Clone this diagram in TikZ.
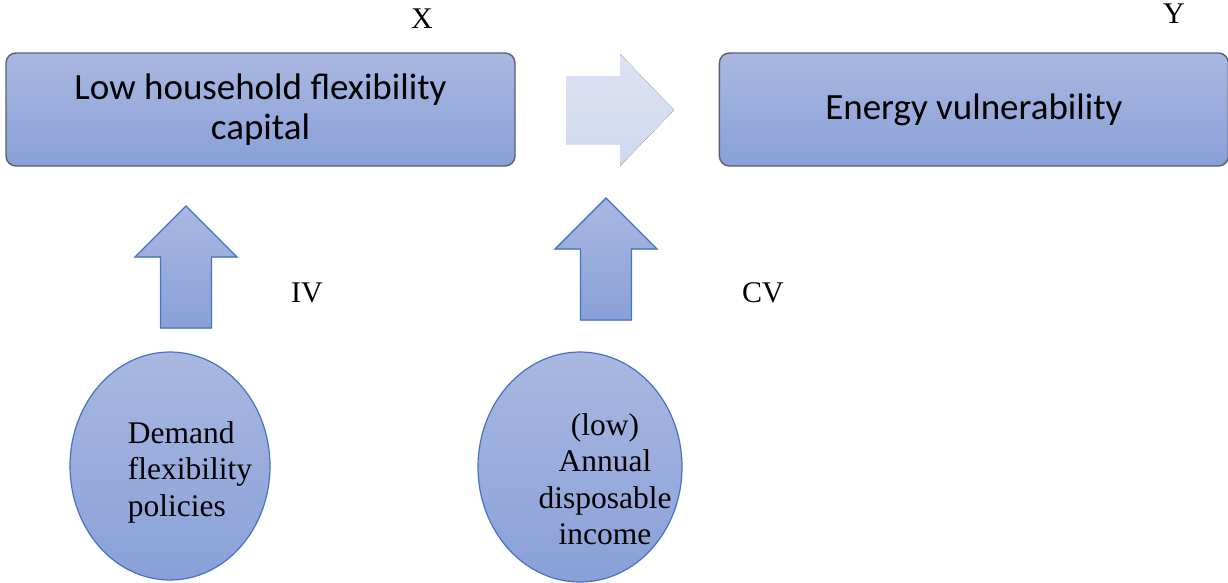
\documentclass[tikz,border=0pt]{standalone}
\usepackage{fontspec}
\setmainfont{Liberation Serif}
\newfontfamily\calibri{Carlito}
\usetikzlibrary{positioning,shapes.geometric}

\definecolor{boxtop}{RGB}{169,184,225}
\definecolor{boxbot}{RGB}{137,160,216}
\definecolor{boxline}{RGB}{88,96,112}
\definecolor{blueline}{RGB}{68,114,196}
\definecolor{paletop}{RGB}{221,226,242}
\definecolor{palebot}{RGB}{208,216,238}

% block arrow pointing up, tip at (#1,#2)
\newcommand{\uparrowat}[2]{%
  \filldraw[uparrow] (#1,#2) -- ++(51,51) -- ++(-25.5,0) -- ++(0,71)
    -- ++(-51,0) -- ++(0,-71) -- ++(-25.5,0) -- cycle;}

\begin{document}
\begin{tikzpicture}[x=1pt, y=-1pt]
	\tikzstyle{box}=[rectangle, rounded corners=10pt, draw=boxline, line width=1.4pt, top color=boxtop, bottom color=boxbot, minimum width=509pt, minimum height=113pt, inner sep=0pt, align=center, font=\calibri\fontsize{37}{40}\selectfont]
	\tikzstyle{bubble}=[ellipse, draw=blueline, line width=1.2pt, top color=boxtop, bottom color=boxbot, inner sep=0pt]
	\tikzstyle{bubbletext}=[inner sep=0pt, font=\fontsize{31.5}{36.5}\selectfont]
	\tikzstyle{tag}=[inner sep=0pt, font=\fontsize{30}{36}\selectfont]
	\tikzstyle{uparrow}=[draw=blueline, line width=1.4pt, top color=boxtop, bottom color=boxbot]
	\useasboundingbox (0,0) rectangle (1228,582);

	\node[box]                           (lowcap) at (260.5,109.5) {Low household flexibility\\capital};
	\node[box, right=203pt of lowcap]    (energy) {Energy vulnerability};

	\node[bubble, minimum width=200pt, minimum height=228pt] (policy) at (170,466) {};
	\node[bubble, minimum width=204pt, minimum height=230pt] (income) at (580,467) {};
	\node[bubbletext, align=left]   (policytxt) at (190,472) {Demand\\flexibility\\policies};
	\node[bubbletext, align=center] (incometxt) at (605,479) {(low)\\Annual\\disposable\\income};

	\node[tag] (xlab)  at (422,19)  {X};
	\node[tag] (ylab)  at (1174,14) {Y};
	\node[tag] (ivlab) at (307,293) {IV};
	\node[tag] (cvlab) at (763,293) {CV};

	% arrows
	\fill[top color=paletop, bottom color=palebot]
	(566,76) -- (620,76) -- (620,54) -- (674,110) -- (620,166) -- (620,144) -- (566,144) -- cycle;
	\uparrowat{186}{206}
	\uparrowat{606}{198}
\end{tikzpicture}
\end{document}
